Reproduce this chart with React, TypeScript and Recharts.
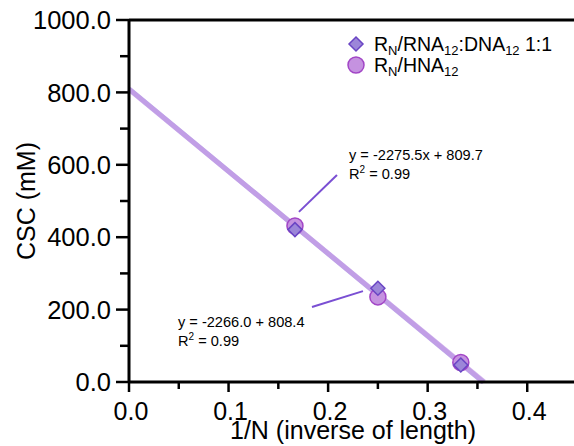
import React from 'react';
import { ScatterChart, Scatter, XAxis, YAxis, ReferenceLine, ReferenceDot, Legend } from 'recharts';

const inverseLength = [0.1667, 0.25, 0.3333];
const rnaDnaCsc = [421, 259, 47];
const hnaCsc = [431, 235, 54];

const fitRnaDna = [{ x: 0, y: 809.7 }, { x: 0.3558, y: 0 }];
const fitHna = [{ x: 0, y: 808.4 }, { x: 0.3568, y: 0 }];

const xTicks = [0, 0.05, 0.1, 0.15, 0.2, 0.25, 0.3, 0.35, 0.4];
const yTicks = [0, 100, 200, 300, 400, 500, 600, 700, 800, 900, 1000];

const annUpperText = { x: 0.221, y: 612, eq: 'y = -2275.5x + 809.7', r2: '0.99' };
const annUpperLeader = [{ x: 0.2089, y: 572 }, { x: 0.1707, y: 470 }];
const annLowerText = { x: 0.0492, y: 151, eq: 'y = -2266.0 + 808.4', r2: '0.99' };
const annLowerLeader = [{ x: 0.1838, y: 207 }, { x: 0.235, y: 251 }];

const rnaDnaData = inverseLength.map((x, i) => ({ x, y: rnaDnaCsc[i] }));
const hnaData = inverseLength.map((x, i) => ({ x, y: hnaCsc[i] }));

const FONT = '"Liberation Sans", Arial, Helvetica, sans-serif';
const DIA_FILL = '#9c86d9';
const DIA_STROKE = '#6a45c4';
const CIR_FILL = '#c592e0';
const CIR_STROKE = '#a246c6';
const FIT_A = '#a68ae0';
const FIT_B = '#c39ae6';
const LEADER = '#7a4fd3';

const YTick = (props: any) => {
  const { x, y, payload } = props;
  const v = payload.value;
  const major = v % 200 === 0;
  return (
    <g>
      <line x1={x} x2={x - (major ? 13 : 9)} y1={y} y2={y} stroke="#000" strokeWidth={2.5} />
      {major && (
        <text x={x - 18} y={y} dy="0.36em" textAnchor="end" fontSize={25.5} fontFamily={FONT} fill="#000">
          {v.toFixed(1)}
        </text>
      )}
    </g>
  );
};

const XTick = (props: any) => {
  const { x, y, payload } = props;
  const v = payload.value;
  const major = Math.round(v * 100) % 10 === 0;
  return (
    <g>
      <line x1={x} x2={x} y1={y} y2={y + (major ? 10 : 7)} stroke="#000" strokeWidth={2.5} />
      {major && (
        <text x={x + 2} y={y + 38} textAnchor="middle" fontSize={25} fontFamily={FONT} fill="#000">
          {v.toFixed(1)}
        </text>
      )}
    </g>
  );
};

const Diamond = (props: any) => {
  const { cx, cy } = props;
  const s = 7;
  return (
    <path
      d={`M${cx},${cy - s} L${cx + s},${cy} L${cx},${cy + s} L${cx - s},${cy} Z`}
      fill={DIA_FILL}
      stroke={DIA_STROKE}
      strokeWidth={1.5}
    />
  );
};

const Circle = (props: any) => {
  const { cx, cy } = props;
  return <circle cx={cx} cy={cy} r={8} fill={CIR_FILL} stroke={CIR_STROKE} strokeWidth={1.5} />;
};

const makeAnn = (eq: string, r2: string) => (props: any) => {
  const { cx, cy } = props;
  return (
    <g fontFamily={FONT} fontSize={14.6} fill="#000">
      <text x={cx} y={cy}>{eq}</text>
      <text x={cx} y={cy + 19}>
        R<tspan dy={-6} fontSize={10}>2</tspan>
        <tspan dy={6}>{` = ${r2}`}</tspan>
      </text>
    </g>
  );
};

const LegendContent = () => (
  <svg width={240} height={50} style={{ display: 'block' }}>
    <g fontFamily={FONT} fontSize={19.5} fill="#000">
      <path d="M21,7 L28,14 L21,21 L14,14 Z" fill={DIA_FILL} stroke={DIA_STROKE} strokeWidth={1.5} />
      <text x={39} y={21}>
        R<tspan dy={4} fontSize={13}>N</tspan>
        <tspan dy={-4}>/RNA</tspan>
        <tspan dy={4} fontSize={13}>12</tspan>
        <tspan dy={-4}>:DNA</tspan>
        <tspan dy={4} fontSize={13}>12</tspan>
        <tspan dy={-4}> 1:1</tspan>
      </text>
      <circle cx={21} cy={35} r={8} fill={CIR_FILL} stroke={CIR_STROKE} strokeWidth={1.5} />
      <text x={39} y={42}>
        R<tspan dy={4} fontSize={13}>N</tspan>
        <tspan dy={-4}>/HNA</tspan>
        <tspan dy={4} fontSize={13}>12</tspan>
      </text>
    </g>
  </svg>
);

export default function App() {
  return (
    <div style={{ position: 'absolute', left: 0, top: 0, width: 574, height: 446, overflow: 'hidden', background: '#fff' }}>
      <ScatterChart width={580} height={446} margin={{ top: 20, right: 3, bottom: 0, left: 29 }}>
        <XAxis
          type="number"
          dataKey="x"
          domain={[0, 0.45]}
          ticks={xTicks}
          interval={0}
          tick={<XTick />}
          tickLine={false}
          tickSize={0}
          tickMargin={0}
          axisLine={{ stroke: '#000', strokeWidth: 3 }}
          height={64}
          allowDataOverflow
          label={{
            value: '1/N (inverse of length)',
            position: 'insideBottom',
            offset: 7,
            fontSize: 25,
            fontFamily: FONT,
            fill: '#000',
          }}
        />
        <YAxis
          type="number"
          dataKey="y"
          domain={[0, 1000]}
          ticks={yTicks}
          interval={0}
          tick={<YTick />}
          tickLine={false}
          tickSize={0}
          tickMargin={0}
          axisLine={{ stroke: '#000', strokeWidth: 3 }}
          width={100}
          allowDataOverflow
          label={{
            value: 'CSC (mM)',
            angle: -90,
            position: 'insideLeft',
            offset: -3,
            fontSize: 25,
            fontFamily: FONT,
            fill: '#000',
            style: { textAnchor: 'middle' },
          }}
        />
        <ReferenceLine y={1000} stroke="#000" strokeWidth={3} ifOverflow="visible" />
        <ReferenceLine segment={fitRnaDna} stroke={FIT_A} strokeWidth={5} strokeOpacity={0.75} ifOverflow="visible" />
        <ReferenceLine segment={fitHna} stroke={FIT_B} strokeWidth={5} strokeOpacity={0.7} ifOverflow="visible" />
        <ReferenceLine segment={annUpperLeader} stroke={LEADER} strokeWidth={2} ifOverflow="visible" />
        <ReferenceLine segment={annLowerLeader} stroke={LEADER} strokeWidth={2} ifOverflow="visible" />
        <ReferenceDot x={annUpperText.x} y={annUpperText.y} r={0} ifOverflow="visible" shape={makeAnn(annUpperText.eq, annUpperText.r2)} />
        <ReferenceDot x={annLowerText.x} y={annLowerText.y} r={0} ifOverflow="visible" shape={makeAnn(annLowerText.eq, annLowerText.r2)} />
        <Scatter name="HNA" data={hnaData} shape={<Circle />} isAnimationActive={false} />
        <Scatter name="RNA:DNA" data={rnaDnaData} shape={<Diamond />} isAnimationActive={false} />
        <Legend
          layout="horizontal"
          align="center"
          verticalAlign="middle"
          content={<LegendContent />}
          wrapperStyle={{ position: 'absolute', left: 335, top: 30, width: 240, height: 50 }}
        />
      </ScatterChart>
    </div>
  );
}
